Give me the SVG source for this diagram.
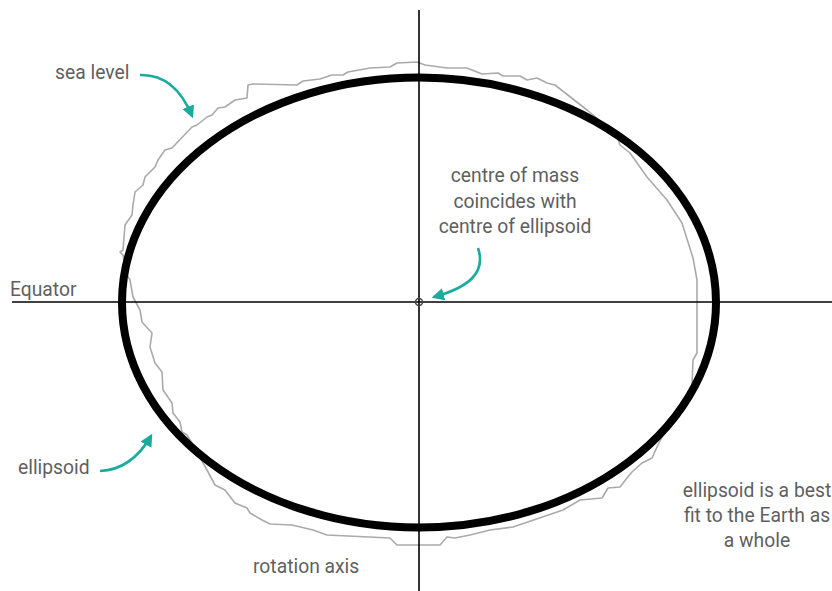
<svg xmlns="http://www.w3.org/2000/svg" width="832" height="591" viewBox="0 0 832 591">
<style>
.lbl{font-family:Roboto,"Liberation Sans",sans-serif;font-size:19.3px;fill:#5f5f5f}
.mid{text-anchor:middle}
.ax{stroke:#000;stroke-width:1.6;fill:none}
.arr{stroke:#1aab9d;stroke-width:2.6;fill:none;marker-end:url(#ah)}
</style>
<defs>
<marker id="ah" viewBox="0 0 10 10" refX="8" refY="5" markerWidth="4.8" markerHeight="4.8" orient="auto" markerUnits="strokeWidth">
<path d="M0,0 L10,5 L0,10 Z" fill="#1aab9d"/>
</marker>
</defs>
<rect width="832" height="591" fill="#fff"/>
<g id="sea-level">
<polyline fill="none" stroke="#aaaaaa" stroke-width="1.6" stroke-linejoin="round" points="417,62 425,65 447,68 467,68 482,74 498,73 503,76 520,76 527,80 537,78 547,83 555,85 587,110 617,135 620,145 630,153 647,177 667,200 682,223 693,258 697,280 697,353 693,360 692,387 688,400 675,420 663,435 657,447 652,458 642,463 632,472 627,478 620,487 608,488 602,498 580,500 563,510 513,527 490,530 470,535 455,538 447,537 440,545 397,545 390,538 327,535 313,530 292,525 270,524 262,520 250,513 247,508 235,503 225,490 215,485 207,470 192,443 187,435 182,432 180,422 173,413 172,403 163,390 162,372 155,363 150,347 152,333 142,322 140,310 133,297 130,280 127,275 123,255 120,252 123,250 125,225 132,215 133,205 135,192 143,185 145,177 155,167 158,160 165,150 172,148 192,127 197,125 207,117 212,115 218,108 225,107 235,100 247,98 248,85 253,84 297,85 303,81 320,79 332,75 343,75 348,72 370,68 390,67 397,63 417,62"/>
</g>
<g id="axes">
<line class="ax" x1="419" y1="10" x2="419" y2="591"/>
<line class="ax" x1="12" y1="302" x2="832" y2="302"/>
</g>
<g id="ellipsoid">
<ellipse cx="419" cy="302.5" rx="297" ry="225" fill="none" stroke="#000" stroke-width="8"/>
</g>
<g id="centre">
<circle cx="419" cy="302" r="3.5" fill="none" stroke="#444" stroke-width="1.5"/>
</g>
<g id="connectors">
<path class="arr" d="M140,75 Q175,74 192,116"/>
<path class="arr" d="M100,471 C125,470 140,455 151,436"/>
<path class="arr" d="M478,248 C486,272 470,287 434,297"/>
</g>
<g id="labels">
<text class="lbl" x="55" y="79">sea level</text>
<text class="lbl" x="10" y="296">Equator</text>
<text class="lbl" x="18" y="474">ellipsoid</text>
<text class="lbl mid" x="515" y="182">centre of mass</text>
<text class="lbl mid" x="515" y="207.5">coincides with</text>
<text class="lbl mid" x="515" y="233">centre of ellipsoid</text>
<text class="lbl mid" x="757" y="497">ellipsoid is a best</text>
<text class="lbl mid" x="757" y="522">fit to the Earth as</text>
<text class="lbl mid" x="757" y="547">a whole</text>
<text class="lbl" x="253" y="573">rotation axis</text>
</g>
</svg>
